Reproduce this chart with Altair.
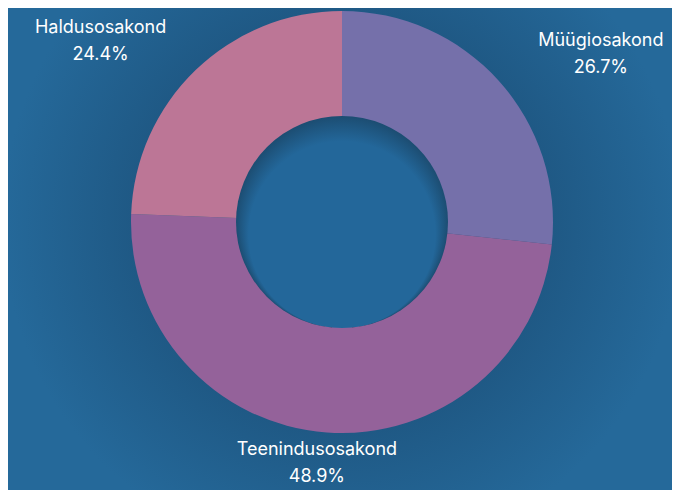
import altair as alt
import pandas as pd

departments = ["Müügiosakond", "Teenindusosakond", "Haldusosakond"]
shares = [26.7, 48.9, 24.4]
order = [1, 2, 3]
slice_colors = ["#7570aa", "#94629a", "#bc7696"]

df = pd.DataFrame({"dept": departments, "share": shares, "ord": order})

BG = "#25699a"

base = alt.Chart(df)

halo = alt.Chart(pd.DataFrame({"v": [1]})).mark_arc(
    radius=0, radius2=340, theta=0, theta2=6.2832,
    color=alt.RadialGradient(
        gradient="radial", x1=0.5, y1=0.5, x2=0.5, y2=0.5, r1=0, r2=0.5,
        stops=[alt.GradientStop(color="#1d5580", offset=0),
               alt.GradientStop(color="#1f5985", offset=0.62),
               alt.GradientStop(color=BG, offset=1)],
    ),
).encode(opacity=alt.value(1))

arcs = base.mark_arc(innerRadius=105, outerRadius=211, stroke=None).encode(
    theta=alt.Theta("share:Q", stack=True),
    color=alt.Color("dept:N", scale=alt.Scale(domain=departments, range=slice_colors), legend=None),
    order=alt.Order("ord:Q"),
)

hole_shadow = alt.Chart(pd.DataFrame({"v": [1]})).mark_arc(
    radius=0, radius2=106, theta=0, theta2=6.2832,
    color=alt.RadialGradient(
        gradient="radial", x1=0.5, y1=0.56, x2=0.5, y2=0.5, r1=0.44, r2=0.5,
        stops=[alt.GradientStop(color="#23679a", offset=0),
               alt.GradientStop(color="#1c4d72", offset=1)],
    ),
).encode(opacity=alt.value(1))

A, B = 348, 246
labels = base.transform_window(
    cum="sum(share)", sort=[alt.SortField("ord")]
).transform_joinaggregate(
    total="sum(share)"
).transform_calculate(
    mid="2*PI*(datum.cum - datum.share/2)/datum.total",
    ex=f"{A}*sin(datum.mid)",
    ey=f"{B}*cos(datum.mid)",
    lt="atan2(datum.ex, datum.ey)",
    lr="sqrt(datum.ex*datum.ex + datum.ey*datum.ey)",
    label="datum.dept + '\\n' + format(datum.share, '.1f') + '%'",
).mark_text(
    font="Inter", fontSize=18, color="white", lineBreak="\n", lineHeight=27,
    align="center", baseline="middle", dy=-17,
).encode(
    theta=alt.Theta("lt:Q", scale=None),
    radius=alt.Radius("lr:Q", scale=None),
    text="label:N",
)

chart = alt.layer(halo, arcs, hole_shadow, labels).properties(
    width=660, height=428,
    autosize=alt.AutoSizeParams(type="none"),
    padding={"left": 4, "top": 0, "right": 0, "bottom": 54},
    background=BG,
).configure_view(stroke=None)

chart.save("out.html", embed_options={"renderer": "svg", "actions": False})
